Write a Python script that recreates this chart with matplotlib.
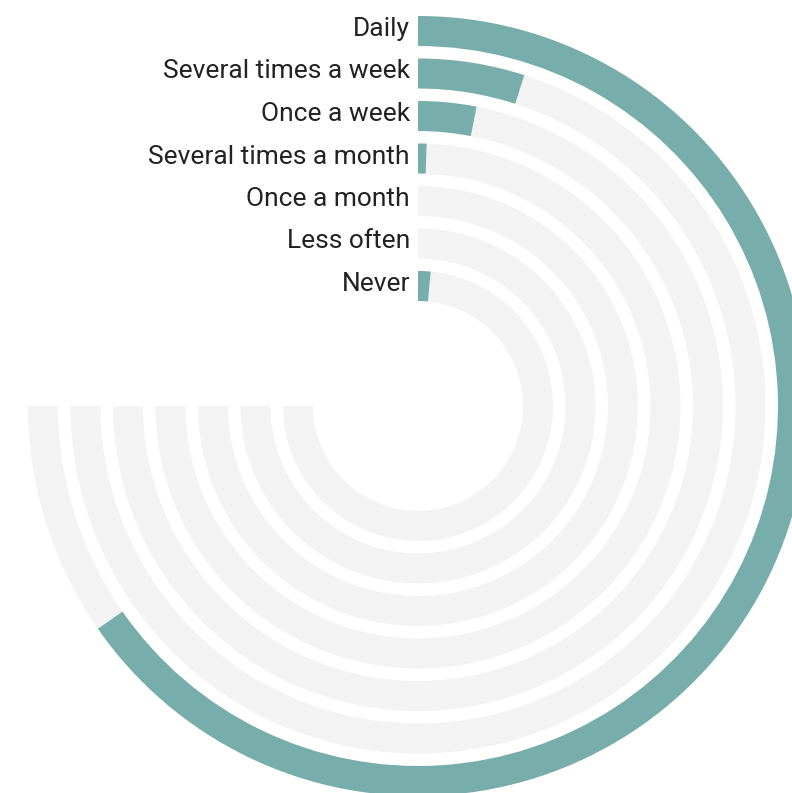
import numpy as np
import matplotlib
matplotlib.use("Agg")
import matplotlib.pyplot as plt
from matplotlib.transforms import offset_copy

# Share of respondents (%) per frequency
categories = ["Daily", "Several times a week", "Once a week",
              "Several times a month", "Once a month", "Less often", "Never"]
values = [87.1, 6.6, 4.1, 0.7, 0.0, 0.0, 2.0]
max_value = 100.0

W, H, DPI = 792, 793, 100
fig = plt.figure(figsize=(W / DPI, H / DPI), dpi=DPI)

cx, cy = 418, 406          # centre in pixels (from top-left)
R_AX = 400                 # axes radius in pixels
ax = fig.add_axes([(cx - R_AX) / W, (H - cy - R_AX) / H, 2 * R_AX / W, 2 * R_AX / H],
                  projection="polar")
ax.set_theta_zero_location("N")
ax.set_theta_direction(-1)
ax.set_ylim(0, R_AX)
ax.set_axis_off()

outer, step, thick = 390, 42.5, 30
sweep = 1.5 * np.pi
track_color = "#f3f3f3"
bar_color = "#77aeab"

radii = [outer - thick / 2 - step * i for i in range(len(categories))]
angles = [v / max_value * sweep for v in values]

ax.barh(radii, [sweep] * len(radii), left=0, height=thick,
        color=track_color, linewidth=0)
ax.barh(radii, angles, left=0, height=thick, color=bar_color, linewidth=0)

label_tr = offset_copy(ax.transData, fig=fig, x=-8, y=2, units="dots")
for r, name in zip(radii, categories):
    ax.text(0, r, name, transform=label_tr, ha="right", va="center",
            fontsize=19, family="Roboto", color="#222222")

fig.savefig("out.png", dpi=DPI, facecolor="white")
